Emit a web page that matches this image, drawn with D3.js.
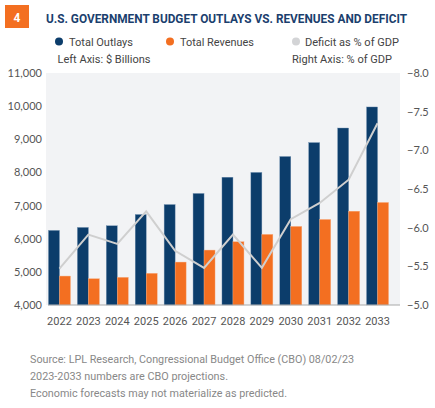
<!DOCTYPE html>
<html><head><meta charset="utf-8">
<script src="https://cdn.jsdelivr.net/npm/d3@7"></script>
<style>
body{margin:0;background:#fff;}
svg{display:block;}
</style></head>
<body><svg id="c" width="435" height="408"></svg>
<script>
const years = ["2022","2023","2024","2025","2026","2027","2028","2029","2030","2031","2032","2033"];
const outlays = [6250,6340,6390,6730,7030,7365,7855,8000,8480,8900,9340,9975];
const revenues = [4873,4792,4834,4955,5295,5657,5907,6130,6370,6580,6830,7093];
const deficit = [-5.47,-5.91,-5.79,-6.21,-5.70,-5.48,-5.91,-5.48,-6.11,-6.32,-6.62,-7.35];
const leftTicks = [4000,5000,6000,7000,8000,9000,10000,11000];
const rightTicks = [-5.0,-5.5,-6.0,-6.5,-7.0,-7.5,-8.0];

const navy = "#0c3d6b", orange = "#f36f21", gray = "#cfcfcf";
const svg = d3.select("#c");
const pTop = 73, pBottom = 305, pLeft = 47, pRight = 400;

// header
svg.append("rect").attr("x",5).attr("y",5).attr("width",24).attr("height",23).attr("fill","#f36f21");
svg.append("text").attr("x",17).attr("y",21.5).attr("text-anchor","middle").attr("fill","#fff")
  .attr("font-family","Roboto, sans-serif").attr("font-weight",700).attr("font-size",12).text("4");
svg.append("text").attr("x",46).attr("y",22.5).attr("fill","#1b3f6e")
  .attr("font-family","Roboto, sans-serif").attr("font-weight",700).attr("font-size",12.5)
  .attr("textLength",361).attr("lengthAdjust","spacingAndGlyphs")
  .text("U.S. GOVERNMENT BUDGET OUTLAYS VS. REVENUES AND DEFICIT");

// legend
const legend = [
  {label:"Total Outlays", color:navy, cx:59, tx:69, w:64},
  {label:"Total Revenues", color:orange, cx:170, tx:180, w:74},
  {label:"Deficit as % of GDP", color:"#d3d4d6", cx:296, tx:305, w:94}
];
legend.forEach(l=>{
  svg.append("circle").attr("cx",l.cx).attr("cy",41.5).attr("r",4).attr("fill",l.color);
  svg.append("text").attr("x",l.tx).attr("y",45.5).attr("fill","#444")
    .attr("font-family","Roboto, sans-serif").attr("font-size",11.5)
    .attr("textLength",l.w).attr("lengthAdjust","spacingAndGlyphs").text(l.label);
});
svg.append("text").attr("x",57.5).attr("y",63).attr("fill","#444")
  .attr("font-family","Roboto, sans-serif").attr("font-size",11.5)
  .attr("textLength",93).attr("lengthAdjust","spacingAndGlyphs").text("Left Axis: $ Billions");
svg.append("text").attr("x",292).attr("y",63).attr("fill","#444")
  .attr("font-family","Roboto, sans-serif").attr("font-size",11.5)
  .attr("textLength",100).attr("lengthAdjust","spacingAndGlyphs").text("Right Axis: % of GDP");

// plot bg
svg.append("rect").attr("x",pLeft-1).attr("y",pTop).attr("width",pRight-pLeft+1).attr("height",pBottom-pTop).attr("fill","#f2f3f5");

const x = d3.scaleBand().domain(years).range([45,392]).paddingInner(0.24).paddingOuter(0.12);
const xs = d3.scaleBand().domain(["o","r"]).range([0,x.bandwidth()]);
const yL = d3.scaleLinear().domain([4000,11000]).range([pBottom,pTop]);
const yR = d3.scaleLinear().domain([-5,-8]).range([pBottom,pTop]);

const g = svg.append("g");
years.forEach((yr,i)=>{
  g.append("rect").attr("x",x(yr)+xs("o")).attr("width",xs.bandwidth())
    .attr("y",yL(outlays[i])).attr("height",yL(4000)-yL(outlays[i])).attr("fill",navy)
    .attr("stroke","#6f8fb0").attr("stroke-width",0.4);
  g.append("rect").attr("x",x(yr)+xs("r")).attr("width",xs.bandwidth())
    .attr("y",yL(revenues[i])).attr("height",yL(4000)-yL(revenues[i])).attr("fill",orange)
    .attr("stroke","#f8a878").attr("stroke-width",0.4);
});

const line = d3.line().x((d,i)=>x(years[i])+x.bandwidth()/2).y(d=>yR(d));
svg.append("path").datum(deficit).attr("d",line).attr("fill","none").attr("stroke",gray).attr("stroke-width",2);

// axes
const axL = d3.axisLeft(yL).tickValues(leftTicks).tickFormat(d3.format(",")).tickSize(0).tickPadding(5);
const gl = svg.append("g").attr("transform",`translate(${pLeft},0)`).call(axL);
gl.select(".domain").remove();
gl.selectAll("text").attr("font-family","Lato, sans-serif").attr("font-size",11).attr("fill","#555");

const axR = d3.axisRight(yR).tickValues(rightTicks).tickFormat(d3.format(".1f")).tickSize(0).tickPadding(7);
const gr = svg.append("g").attr("transform",`translate(${pRight},0)`).call(axR);
gr.select(".domain").remove();
gr.selectAll("text").attr("font-family","Lato, sans-serif").attr("font-size",11).attr("fill","#555");

const axB = d3.axisBottom(x).tickSize(0).tickPadding(12);
const gb = svg.append("g").attr("transform",`translate(0,${pBottom})`).call(axB);
gb.select(".domain").remove();
gb.selectAll("text").attr("font-family","Roboto, sans-serif").attr("font-size",11).attr("fill","#555");
svg.append("line").attr("x1",48).attr("x2",pRight).attr("y1",pBottom).attr("y2",pBottom).attr("stroke","#a8a8a8").attr("stroke-width",1);

// footer
const foot = ["Source: LPL Research, Congressional Budget Office (CBO) 08/02/23",
  "2023-2033 numbers are CBO projections.",
  "Economic forecasts may not materialize as predicted."];
const fw = [324, 198, 257];
foot.forEach((t,i)=>{
  svg.append("text").attr("x",30).attr("y",362.5+i*17).attr("fill","#888")
    .attr("font-family","Roboto, sans-serif").attr("font-size",11.5)
    .attr("textLength",fw[i]).attr("lengthAdjust","spacingAndGlyphs").text(t);
});
</script></body></html>
